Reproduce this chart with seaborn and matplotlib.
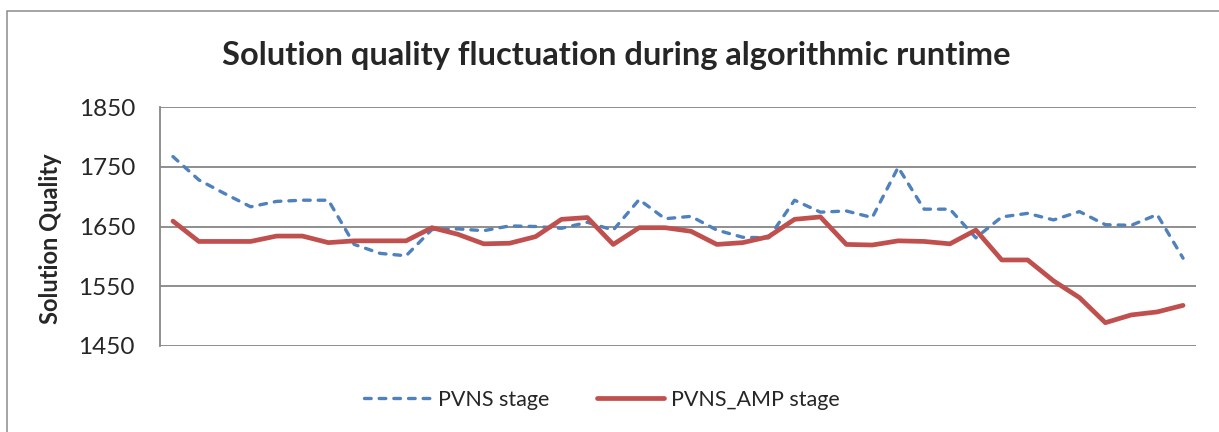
import matplotlib
matplotlib.use("Agg")
import matplotlib.pyplot as plt
import numpy as np
import pandas as pd
import seaborn as sns
from matplotlib.patches import Rectangle

# values (40 iterations)
pvns = [1767, 1728, 1705, 1683, 1692, 1694, 1694, 1620, 1605, 1601,
        1645, 1646, 1643, 1651, 1650, 1647, 1657, 1644, 1695, 1663,
        1667, 1644, 1632, 1631, 1694, 1674, 1676, 1665, 1749, 1679,
        1679, 1631, 1666, 1672, 1661, 1675, 1653, 1652, 1670, 1597]
pvns_amp = [1659, 1625, 1625, 1625, 1634, 1634, 1623, 1626, 1626, 1626,
            1648, 1637, 1621, 1622, 1633, 1662, 1665, 1620, 1648, 1648,
            1642, 1620, 1623, 1633, 1662, 1666, 1620, 1619, 1626, 1625,
            1621, 1644, 1594, 1594, 1559, 1531, 1489, 1502, 1507, 1518]
series_names = ["PVNS stage", "PVNS_AMP stage"]
yticks = [1450, 1550, 1650, 1750, 1850]

iters = np.arange(1, len(pvns) + 1)
df = pd.DataFrame({
    "iteration": np.concatenate([iters, iters]),
    "quality": pvns + pvns_amp,
    "stage": [series_names[0]] * len(pvns) + [series_names[1]] * len(pvns_amp),
})

sns.set_style("white")
plt.rcParams["font.family"] = ["Lato", "DejaVu Sans"]

W, H = 1219, 432
fig = plt.figure(figsize=(W / 100, H / 100), dpi=100)
ax = fig.add_axes([160 / W, 1 - 346 / H, (1196 - 160) / W, (346 - 107) / H])

# chart border (only left/top visible in the reference)
fig.patches.append(Rectangle((7 / W, -0.1), 1.2, 1 - 11 / H + 0.1,
                             transform=fig.transFigure, fill=False,
                             edgecolor="#8c8c8c", lw=1.1))

grid_c = "#868686"
for v in yticks:
    ax.axhline(v, color=grid_c, lw=1.3, zorder=0)

sns.lineplot(data=df[df["stage"] == series_names[0]], x="iteration", y="quality",
             ax=ax, color="#4f81bd", lw=2.4, label=series_names[0],
             dashes=False, linestyle=(0, (2, 2.4)), dash_capstyle="round")
sns.lineplot(data=df[df["stage"] == series_names[1]], x="iteration", y="quality",
             ax=ax, color="#c0504d", lw=3.4, label=series_names[1],
             solid_capstyle="round")

ax.set_xlim(0.5, len(pvns) + 0.5)
ax.set_ylim(1450, 1850)
ax.set_yticks(yticks)
ax.set_yticklabels([str(v) for v in yticks], fontsize=17.5)
ax.tick_params(axis="y", length=0, pad=18)
ax.set_xticks([])
ax.set_xlabel("")
ax.set_ylabel("")
for s in ["top", "right", "bottom"]:
    ax.spines[s].set_visible(False)
ax.spines["left"].set_color(grid_c)
ax.spines["left"].set_linewidth(1.3)

fig.text(51 / W, 1 - 239 / H, "Solution Quality", rotation=90,
         ha="center", va="center", fontsize=17, fontweight="bold")
fig.text(616 / W, 1 - 55 / H, "Solution quality fluctuation during algorithmic runtime",
         ha="center", va="center", fontsize=23.5, fontweight="bold")

ax.legend(loc="center", bbox_to_anchor=((602 - 160) / 1036, -0.225), ncol=2,
          frameon=False, fontsize=15.5, handlelength=3.1, handletextpad=0.35,
          columnspacing=2.2)

fig.savefig("out.png", dpi=100)
